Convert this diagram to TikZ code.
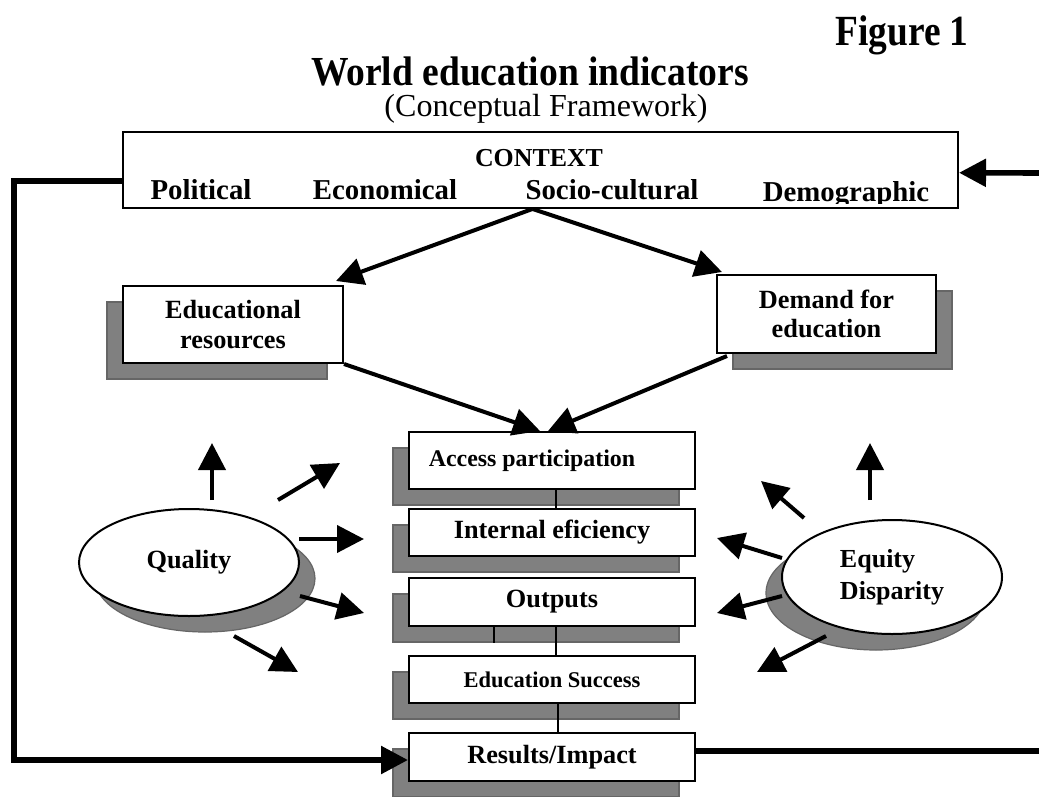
\documentclass[tikz,border=0pt]{standalone}
\usepackage{fontspec}
\setmainfont{Liberation Serif}
\usetikzlibrary{arrows.meta,shapes.geometric,shadows}

\begin{document}
\begin{tikzpicture}[x=0.25mm,y=-0.25mm,
    box/.style={draw, fill=white, line width=0.5mm, inner sep=0pt, align=center,
      font=\bfseries\fontsize{18.7}{21}\selectfont},
    lshade/.style={general shadow={shadow xshift=-4mm, shadow yshift=-4mm,
      fill=black!50, draw=black!60, line width=0.3mm}},
    rshade/.style={general shadow={shadow xshift=4mm, shadow yshift=-4mm,
      fill=black!50, draw=black!60, line width=0.3mm}},
    stack/.style={box, lshade, minimum width=71.5mm, minimum height=12mm},
    oval/.style={box, ellipse, minimum width=55mm, minimum height=26.75mm},
    lbl/.style={anchor=base, font=\bfseries\fontsize{20.5}{24}\selectfont},
    arr/.style={line width=1mm, -{Triangle[length=6.75mm, width=6.75mm]}},
    feed/.style={line width=1.4mm},
    link/.style={line width=0.5mm}]
  \useasboundingbox (0,0) rectangle (1039,796);

  % Titles
  \node[anchor=base, font=\bfseries\fontsize{26.6}{30}\selectfont] (fig) at (902,46) {\scalebox{1}[1.15]{Figure 1}};
  \node[anchor=base, font=\bfseries\fontsize{26.7}{30}\selectfont] (title) at (530,86) {\scalebox{1}[1.1]{World education indicators}};
  \node[anchor=base, font=\fontsize{22.8}{26}\selectfont] (sub) at (546,117) {(Conceptual Framework)};

  % Context box
  \node[box, minimum width=208.75mm, minimum height=19.1mm] (ctx) at (540.5,169.75) {};
  \node[anchor=base, font=\bfseries\fontsize{18.4}{21}\selectfont] (ctxt) at (539,166) {CONTEXT};
  \node[lbl] (pol) at (201,199) {Political};
  \node[lbl] (eco) at (385,199) {Economical};
  \node[lbl] (soc) at (612,199) {Socio-cultural};
  \begin{scope}
    \clip (ctx.north west) rectangle (958,203);
    \node[lbl] (dgr) at (846,201) {Demographic};
  \end{scope}

  % Resources and demand
  \node[box, lshade, minimum width=55mm, minimum height=19.25mm] (edu) at (233,324.5) {Educational\\resources};
  \node[box, rshade, minimum width=54.75mm, minimum height=19.5mm] (dmd) at (826.5,314) {Demand for\\education};

  % Indicator stack
  \node[stack, minimum height=14.25mm, font=\bfseries\fontsize{17}{20}\selectfont] (acc) at (552,460.5) {Access participation\hspace*{10mm}};
  \node[stack, minimum height=11.75mm] (ief) at (552,532.5) {Internal eficiency};
  \node[stack] (out) at (552,602) {Outputs};
  \node[stack, minimum height=11.75mm, font=\bfseries\fontsize{16}{19}\selectfont] (suc) at (552,679.5) {Education Success};
  \node[stack] (rsl) at (552,757) {Results/Impact};

  % Quality and equity
  \node[oval, rshade] (qua) at (189,562.5) {Quality};
  \node[oval, lshade, minimum height=28.5mm, align=left,
    font=\bfseries\fontsize{18.5}{22.8}\selectfont] (eqt) at (892,577) {Equity\\Disparity};

  % Connectors
  \draw[arr] ([xshift=-2mm]ctx.south) -- ([shift={(-8,-4)}]edu.north east);
  \draw[arr] ([xshift=-2mm]ctx.south) -- ([shift={(6,-2)}]dmd.north west);
  \draw[arr] (edu.south east) -- ([xshift=-3mm]acc.north);
  \draw[arr] ([shift={(11,2)}]dmd.south west) -- ([xshift=-1mm]acc.north);
  \draw[link] ([xshift=1mm]acc.south) -- ([xshift=1mm]ief.north);
  \draw[link] ([xshift=1mm]out.south) -- ([xshift=1mm]suc.north);
  \draw[link] ([xshift=-14.5mm]out.south) -- ++(0,16);
  \draw[link] ([xshift=1.5mm]suc.south) -- ([xshift=1.5mm]rsl.north);

  % Feedback loop
  \coordinate (fbl) at (14,760);
  \coordinate (fbr) at (1039,751);
  \coordinate (fbt) at (1039,173);
  \draw[feed, -{Triangle[length=6.75mm, width=6.75mm]}] ([shift={(0,11.5)}]ctx.west) -| (fbl) -- (fbl -| rsl.west);
  \draw[feed] ([shift={(0,-6)}]rsl.east) -- (fbr);
  \draw[feed, -{Triangle[length=6.75mm, width=6.75mm]}] (fbt) -- ([shift={(0,3)}]ctx.east);

  % Arrows around Quality
  \coordinate (qa1) at (212,500); \coordinate (qb1) at (212,443);
  \coordinate (qa2) at (278,500); \coordinate (qb2) at (340,463);
  \coordinate (qa3) at (299,539); \coordinate (qb3) at (364,539);
  \coordinate (qa4) at (300,596); \coordinate (qb4) at (364,613);
  \coordinate (qa5) at (234,636); \coordinate (qb5) at (298,672);
  % Arrows around Equity
  \coordinate (ea1) at (870,500); \coordinate (eb1) at (870,443);
  \coordinate (ea2) at (804,518); \coordinate (eb2) at (761,481);
  \coordinate (ea3) at (782,558); \coordinate (eb3) at (717,538);
  \coordinate (ea4) at (782,596); \coordinate (eb4) at (717,613);
  \coordinate (ea5) at (826,636); \coordinate (eb5) at (757,672);
  \foreach \i in {1,...,5} {
    \draw[arr] (qa\i) -- (qb\i);
    \draw[arr] (ea\i) -- (eb\i);
  }
\end{tikzpicture}
\end{document}
